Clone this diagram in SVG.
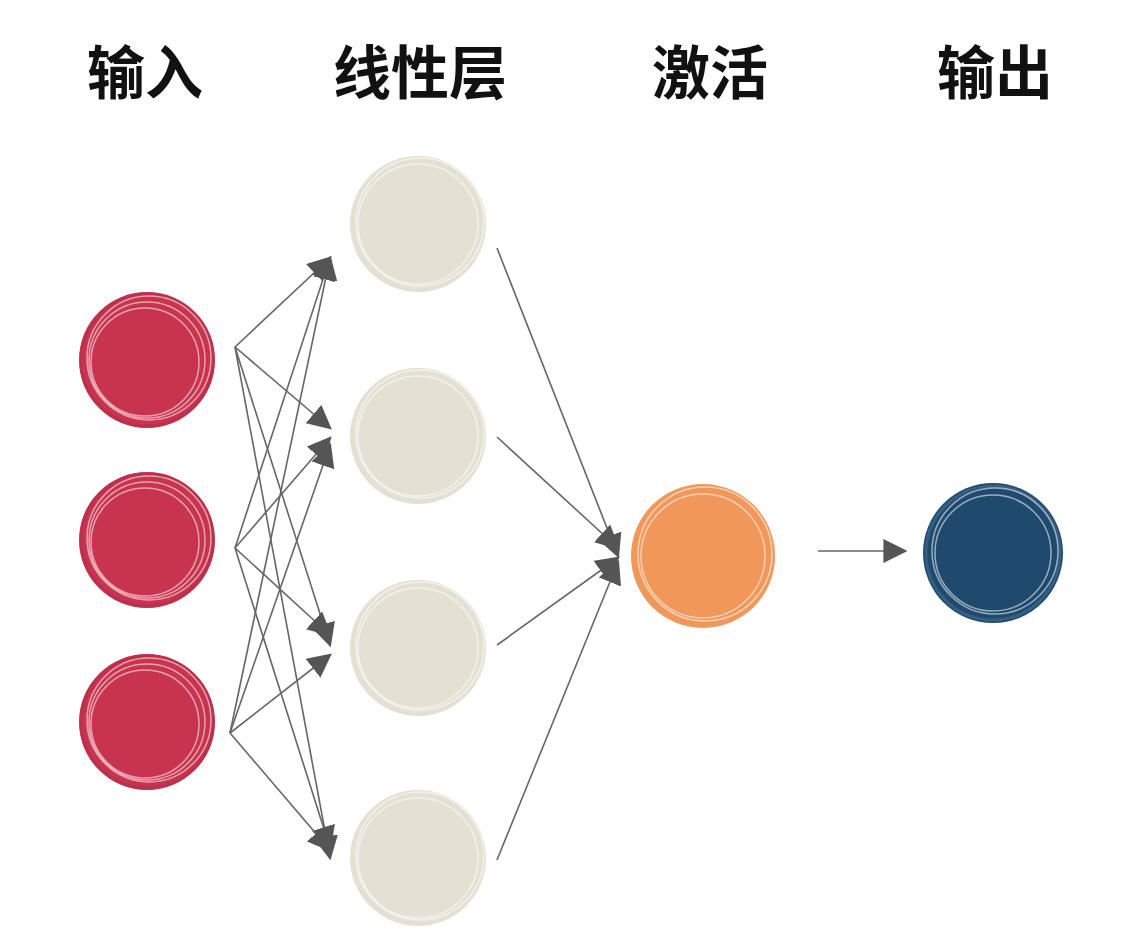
<svg xmlns="http://www.w3.org/2000/svg" width="1128" height="944" viewBox="0 0 1128 944">
<defs>
<marker id="big" viewBox="0 0 10 10" refX="9" refY="5" markerWidth="24" markerHeight="24" orient="auto" markerUnits="userSpaceOnUse"><path d="M0,0 L10,5 L0,10 z" fill="#555"/></marker>
<style>
.t{font-family:"Noto Sans CJK SC","Noto Sans",sans-serif;font-weight:bold;font-size:58px;fill:#111;text-anchor:middle}
.r1{fill:none;stroke:#fff;stroke-opacity:.55;stroke-width:1.5}
.r2{fill:none;stroke-opacity:.8;stroke-width:3}
</style>
</defs>
<rect width="1128" height="944" fill="#fff"/>
<text class="t" x="145" y="94">输入</text>
<text class="t" x="420" y="94">线性层</text>
<text class="t" x="710" y="94">激活</text>
<text class="t" x="995" y="94">输出</text>
<g id="edges" style="stroke:#666;stroke-width:1.6;fill:none;marker-end:url(#big)">
<path d="M235,347 L330,258"/><path d="M235,347 L330,428"/><path d="M235,347 L330,645"/><path d="M235,347 L330,858"/>
<path d="M235,548 L330,258"/><path d="M235,548 L330,438"/><path d="M235,548 L330,635"/><path d="M235,548 L330,848"/>
<path d="M230,733 L330,258"/><path d="M230,733 L330,445"/><path d="M230,733 L330,655"/><path d="M230,733 L330,850"/>
<path d="M497,248 L618,556"/><path d="M497,437 L618,548"/><path d="M497,645 L618,558"/><path d="M497,860 L618,562"/>
<path d="M818,551 L905,551"/>
</g>
<g id="in1"><circle cx="147" cy="360" r="68" fill="#c8334e"/><circle cx="147" cy="360" r="66" class="r2" stroke="#b8304a"/><circle cx="147" cy="360" r="58" class="r1"/><circle cx="149" cy="358" r="62" class="r1"/><circle cx="145" cy="362" r="54" class="r1"/></g>
<g id="in2"><circle cx="147" cy="540" r="68" fill="#c8334e"/><circle cx="147" cy="540" r="66" class="r2" stroke="#b8304a"/><circle cx="147" cy="540" r="58" class="r1"/><circle cx="149" cy="538" r="62" class="r1"/><circle cx="145" cy="542" r="54" class="r1"/></g>
<g id="in3"><circle cx="147" cy="722" r="68" fill="#c8334e"/><circle cx="147" cy="722" r="66" class="r2" stroke="#b8304a"/><circle cx="147" cy="722" r="58" class="r1"/><circle cx="149" cy="720" r="62" class="r1"/><circle cx="145" cy="724" r="54" class="r1"/></g>
<g id="l1"><circle cx="418" cy="224" r="68" fill="#e4e0d3"/><circle cx="418" cy="224" r="60" class="r1"/><circle cx="420" cy="222" r="64" class="r1"/></g>
<g id="l2"><circle cx="418" cy="436" r="68" fill="#e4e0d3"/><circle cx="418" cy="436" r="60" class="r1"/><circle cx="420" cy="434" r="64" class="r1"/></g>
<g id="l3"><circle cx="418" cy="648" r="68" fill="#e4e0d3"/><circle cx="418" cy="648" r="60" class="r1"/><circle cx="420" cy="646" r="64" class="r1"/></g>
<g id="l4"><circle cx="418" cy="858" r="68" fill="#e4e0d3"/><circle cx="418" cy="858" r="60" class="r1"/><circle cx="420" cy="856" r="64" class="r1"/></g>
<g id="act"><circle cx="703" cy="556" r="72" fill="#f0975a"/><circle cx="703" cy="556" r="62" class="r1"/><circle cx="705" cy="554" r="67" class="r1"/></g>
<g id="out"><circle cx="993" cy="553" r="70" fill="#1f4a6e"/><circle cx="993" cy="553" r="67" class="r2" stroke="#3a6488"/><circle cx="993" cy="553" r="58" class="r1"/><circle cx="995" cy="551" r="63" class="r1"/></g>
</svg>
